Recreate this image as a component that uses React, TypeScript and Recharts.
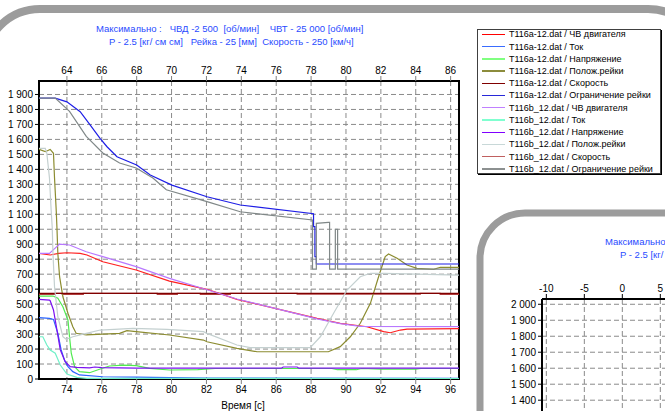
import React from 'react';
import { LineChart, Line, XAxis, YAxis, CartesianGrid, ReferenceArea } from 'recharts';

type P = [number, number];

// ---- tick labels ----
const bottomTicks = [74, 76, 78, 80, 82, 84, 86, 88, 90, 92, 94, 96];
const topTickLabels = ['64', '66', '68', '70', '72', '74', '76', '78', '80', '82', '84', '86'];
const yTicks = [0, 100, 200, 300, 400, 500, 600, 700, 800, 900, 1000, 1100, 1200, 1300, 1400, 1500, 1600, 1700, 1800, 1900];
const x2Ticks = [-10, -5, 0, 5, 10, 15, 20, 25, 30, 35];
const y2Ticks = [0, 100, 200, 300, 400, 500, 600, 700, 800, 900, 1000, 1100, 1200, 1300, 1400, 1500, 1600, 1700, 1800, 1900, 2000];

// ---- legend ----
const legendNames = [
  'T116a-12.dat / ЧВ двигателя',
  'T116a-12.dat / Ток',
  'T116a-12.dat / Напряжение',
  'T116a-12.dat / Полож.рейки',
  'T116a-12.dat / Скорость',
  'T116a-12.dat / Ограничение рейки',
  'T116b_12.dat / ЧВ двигателя',
  'T116b_12.dat / Ток',
  'T116b_12.dat / Напряжение',
  'T116b_12.dat / Полож.рейки',
  'T116b_12.dat / Скорость',
  'T116b_12.dat / Ограничение рейки',
];
const legendColors = [
  '#ff0000', '#3a6cff', '#80ff80', '#8c8c3c', '#800000', '#2828d8',
  '#c080ff', '#80ffd0', '#8000ff', '#c8d8d8', '#c06060', '#8c9090',
];
const plotColors = [
  '#ff2020', '#2a64ff', '#50ea50', '#8c8c30', '#800000', '#1e1ee6',
  '#b878ff', '#70f0c8', '#7a10f0', '#c4d0d0', '#b03c3c', '#808888',
];

// ---- series ----
const rpmA: P[] = [[72.4,839],[73.04,828],[73.52,839],[74.0,843],[74.76,839],[75.15,828],[76.06,783],[77.97,728],[79.88,654],[82.03,599],[83.75,532],[87.38,432],[88.34,405],[89.67,372],[91.2,349],[92.16,316],[92.54,309],[93.12,327],[93.5,333],[96.48,336]];
const currentA: P[] = [[72.4,410],[73.0,405],[73.23,398],[73.48,305],[73.67,194],[73.86,127],[74.06,82],[74.34,49],[74.72,27],[76.06,15],[77.97,12],[79.88,9],[82.0,6],[96.48,5]];
const voltageA: P[] = [[72.4,554],[73.2,554],[73.48,539],[73.77,483],[74.06,394],[74.15,282],[74.25,172],[74.44,82],[74.72,49],[75.3,42],[75.87,65],[76.44,87],[77.21,93],[77.97,89],[78.74,71],[79.88,60],[81.5,62],[82.5,70],[89.2,70],[89.5,62],[90.6,62],[90.9,70],[92.0,66],[94.0,66],[94.3,70],[96.48,70]];
const rackA: P[] = [[72.4,1533],[72.76,1518],[73.04,1533],[73.23,1507],[73.29,1342],[73.39,1120],[73.43,1008],[73.48,839],[73.58,683],[73.77,549],[74.06,439],[74.34,349],[74.53,305],[75.11,294],[77.02,305],[77.44,323],[77.97,316],[79.88,294],[81.83,260],[82.03,249],[83.75,205],[84.9,182],[88.99,182],[89.67,216],[90.25,282],[90.82,372],[91.4,505],[91.87,683],[92.25,817],[92.44,835],[92.93,806],[93.5,761],[94.07,739],[95.03,732],[95.41,746],[96.48,746]];
const speedA: P[] = [[72.4,572],[96.48,572]];
const limitA: P[] = [[72.4,1876],[73.33,1876],[74.0,1851],[74.76,1785],[75.34,1696],[75.9,1607],[76.3,1551],[76.87,1484],[78.0,1429],[78.78,1362],[80.02,1295],[82.03,1217],[83.94,1162],[88.14,1104],[88.14,1017],[88.22,1017],[88.22,817],[88.3,817],[88.3,768],[96.48,768]];
const rpmB: P[] = [[72.4,839],[73.0,839],[73.2,861],[73.58,901],[74.15,895],[75.11,850],[76.06,817],[77.97,750],[79.88,672],[82.03,596],[83.75,534],[87.38,430],[88.34,402],[89.67,370],[90.82,352],[96.48,350]];
const currentB: P[] = [[72.4,282],[72.62,282],[72.85,227],[73.04,194],[73.33,172],[73.62,93],[74.0,33],[74.57,11],[75.15,4],[96.48,3]];
const voltageB: P[] = [[72.4,532],[73.0,527],[73.04,523],[73.23,461],[73.43,327],[73.62,194],[73.9,116],[74.19,82],[74.57,78],[75.3,74],[75.6,80],[76.0,76],[78.0,72],[86.3,72],[86.4,80],[87.2,80],[87.3,72],[96.48,72]];
const rackB: P[] = [[72.4,1540],[72.76,1540],[72.85,1507],[73.0,1342],[73.1,1120],[73.16,1008],[73.2,839],[73.29,616],[73.48,416],[73.77,282],[73.96,265],[74.34,282],[75.11,305],[75.91,327],[77.79,338],[79.73,332],[81.83,316],[82.03,305],[83.75,227],[84.51,210],[87.95,210],[88.53,282],[89.29,439],[90.06,594],[90.82,683],[91.4,706],[92.2,706],[96.48,694]];
const speedB: P[] = [[72.4,565],[73.33,565],[73.33,572],[73.73,572],[73.73,565],[74.94,565],[74.94,572],[79.18,572],[79.18,565],[80.33,565],[80.33,572],[81.65,572],[81.65,565],[83.37,565],[83.37,572],[87.2,572],[87.2,566],[94.26,566],[94.26,572],[95.4,572],[95.4,565],[96.48,565]];
const limitB: P[] = [[72.4,1876],[73.33,1876],[74.15,1787],[75.11,1620],[76.06,1509],[77.02,1442],[77.97,1409],[78.93,1342],[79.7,1264],[82.03,1184],[83.94,1117],[88.08,1062],[88.08,734],[88.3,734],[88.3,1039],[88.99,1046],[89.06,1046],[89.06,734],[89.39,734],[89.39,1000],[89.52,1000],[89.52,734],[96.48,734]];

const seriesList: P[][] = [rpmA, currentA, voltageA, rackA, speedA, limitA, rpmB, currentB, voltageB, rackB, speedB, limitB];
// draw order (b speed under a speed)
const drawOrder = [10, 0, 1, 2, 3, 4, 5, 6, 7, 8, 9, 11];

const X_DOM: [number, number] = [72.4, 96.48];
const Y_DOM: [number, number] = [0, 1990];
const minorX = Array.from({ length: 49 }, (_, i) => 72.5 + i * 0.5);
const minorY = Array.from({ length: 40 }, (_, i) => i * 50);
const X2_DOM: [number, number] = [-10.57, 39.17];
const Y2_DOM: [number, number] = [0, 2033];
const minorX2 = Array.from({ length: 50 }, (_, i) => -10 + i);

const fmtY = (v: number) => (v >= 1000 ? `${Math.floor(v / 1000)} ${String(v % 1000).padStart(3, '0')}` : String(v));

const FONT = '"Liberation Sans", Arial, sans-serif';
const tickStyle = { fontSize: 10, fill: '#000', fontFamily: FONT };

const title1 = 'Максимально :   ЧВД -2 500  [об/мин]    ЧВТ - 25 000 [об/мин]';
const title2 = 'P - 2.5 [кг/ см см]   Рейка - 25 [мм]  Скорость - 250 [км/ч]';

const toPts = (arr: P[]) => arr.map(([x, y]) => ({ x, y }));

const titleStyle: React.CSSProperties = {
  position: 'absolute', fontSize: 9.5, lineHeight: '12px', color: '#2a4bff', whiteSpace: 'pre', fontFamily: FONT,
};

export default function App() {
  return (
    <div style={{ position: 'fixed', left: 0, top: 0, width: 665, height: 411, overflow: 'hidden', background: '#fff', fontFamily: FONT }}>
      <svg width={665} height={411} style={{ position: 'absolute', left: 0, top: 0 }}>
        <rect x={-16} y={9} width={720} height={600} rx={56} ry={56} fill="#fff" stroke="#9c9c9c" strokeWidth={8} />
      </svg>
      <div style={{ ...titleStyle, left: 96, top: 23 }}>{title1}</div>
      <div style={{ ...titleStyle, left: 109, top: 36 }}>{title2}</div>

      <div style={{ position: 'absolute', left: 0, top: 0 }}>
        <LineChart width={470} height={411} margin={{ top: 51, right: 11, bottom: 2, left: 1 }}>
          <CartesianGrid xAxisId="b" yAxisId="l" stroke="#8a8a8a" strokeDasharray="5 3" />
          <XAxis xAxisId="b" dataKey="x" type="number" domain={X_DOM} allowDataOverflow ticks={bottomTicks} interval={0}
            height={30} tickSize={5} tickMargin={2} tick={tickStyle} axisLine={false} tickLine={{ stroke: '#808080' }}
            label={{ value: 'Время [с]', position: 'insideBottom', offset: 0, dx: -6, fontSize: 10, fill: '#000', fontFamily: FONT }} />
          <XAxis xAxisId="t" orientation="top" dataKey="x" type="number" domain={X_DOM} allowDataOverflow ticks={bottomTicks} interval={0}
            tickFormatter={(_v: number, i: number) => topTickLabels[i]}
            height={30} tickSize={5} tickMargin={2} tick={tickStyle} axisLine={false} tickLine={{ stroke: '#808080' }} />
          <XAxis xAxisId="bm" mirror dataKey="x" type="number" domain={X_DOM} allowDataOverflow ticks={minorX} interval={0}
            height={10} tickSize={3} tick={false} axisLine={false} tickLine={{ stroke: '#404040' }} />
          <XAxis xAxisId="tm" mirror orientation="top" dataKey="x" type="number" domain={X_DOM} allowDataOverflow ticks={minorX} interval={0}
            height={10} tickSize={3} tick={false} axisLine={false} tickLine={{ stroke: '#404040' }} />
          <YAxis yAxisId="l" type="number" domain={Y_DOM} allowDataOverflow ticks={yTicks} interval={0} tickFormatter={fmtY}
            width={38} tickSize={4} tickMargin={2} tick={tickStyle} axisLine={false} tickLine={{ stroke: '#000' }} />
          <YAxis yAxisId="lm" mirror type="number" domain={Y_DOM} allowDataOverflow ticks={minorY} interval={0}
            width={10} tickSize={3} tick={false} axisLine={false} tickLine={{ stroke: '#404040' }} />
          {drawOrder.map((i) => (
            <Line key={i} xAxisId="b" yAxisId="l" data={toPts(seriesList[i])} dataKey="y" type="linear"
              stroke={plotColors[i]} strokeWidth={1.2} dot={false} activeDot={false} isAnimationActive={false} />
          ))}
          <ReferenceArea xAxisId="b" yAxisId="l" x1={X_DOM[0]} x2={X_DOM[1]} y1={Y_DOM[0]} y2={Y_DOM[1]}
            fill="none" fillOpacity={0} stroke="#000" strokeWidth={2} ifOverflow="visible" />
        </LineChart>
      </div>

      <div style={{ position: 'absolute', left: 477, top: 29, width: 182, height: 143, border: '1px solid #404040', boxShadow: '1px 1px 0 #000', background: '#fff' }}>
        {legendNames.map((n, i) => (
          <div key={n} style={{ position: 'absolute', left: 0, top: 4.3 + i * 12.22 - 6, height: 12, width: 182 }}>
            <div style={{ position: 'absolute', left: 4, top: 5.5, width: 23, height: 1.3, background: legendColors[i] }} />
            <div style={{ position: 'absolute', left: 31, top: 0, fontSize: 9, lineHeight: '12px', color: '#000', whiteSpace: 'pre' }}>{n}</div>
          </div>
        ))}
      </div>

      <svg width={665} height={411} style={{ position: 'absolute', left: 0, top: 0 }}>
        <rect x={480} y={213} width={400} height={400} rx={45} ry={45} fill="#fff" stroke="#9c9c9c" strokeWidth={7} />
      </svg>
      <div style={{ ...titleStyle, left: 605, top: 236 }}>{title1}</div>
      <div style={{ ...titleStyle, left: 620, top: 249 }}>{title2}</div>
      <div style={{ position: 'absolute', left: 500, top: 250 }}>
        <LineChart width={420} height={374} margin={{ top: 19, right: 0, bottom: 0, left: 0 }}>
          <CartesianGrid xAxisId="t2" yAxisId="l2" stroke="#8a8a8a" strokeDasharray="5 3" />
          <XAxis xAxisId="t2" orientation="top" dataKey="x" type="number" domain={X2_DOM} allowDataOverflow ticks={x2Ticks} interval={0}
            height={30} tickSize={5} tickMargin={2} tick={tickStyle} axisLine={{ stroke: '#000', strokeWidth: 2 }} tickLine={{ stroke: '#000' }} />
          <XAxis xAxisId="t2m" mirror orientation="top" dataKey="x" type="number" domain={X2_DOM} allowDataOverflow ticks={minorX2} interval={0}
            height={10} tickSize={3} tick={false} axisLine={false} tickLine={{ stroke: '#404040' }} />
          <YAxis yAxisId="l2" type="number" domain={Y2_DOM} allowDataOverflow ticks={y2Ticks} interval={0} tickFormatter={fmtY}
            width={42} tickSize={4} tickMargin={2} tick={tickStyle} axisLine={{ stroke: '#000', strokeWidth: 2 }} tickLine={{ stroke: '#000' }} />
          <YAxis yAxisId="l2m" mirror type="number" domain={Y2_DOM} allowDataOverflow ticks={y2Ticks} interval={0}
            width={10} tickSize={3} tick={false} axisLine={false} tickLine={{ stroke: '#000' }} />
          <Line xAxisId="t2" yAxisId="l2" data={[]} dataKey="y" stroke="#000" dot={false} isAnimationActive={false} />
        </LineChart>
      </div>
    </div>
  );
}
